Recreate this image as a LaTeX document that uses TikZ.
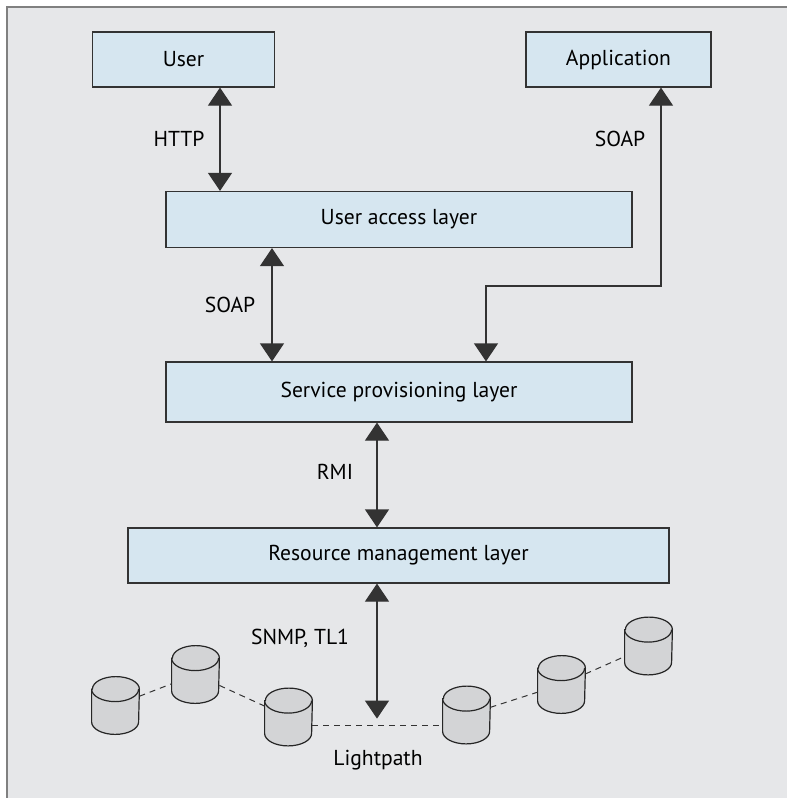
\documentclass[tikz,border=0pt]{standalone}
\usepackage{fontspec}
\setmainfont{PT Sans}
\usetikzlibrary{arrows.meta}

\definecolor{panelgray}{HTML}{E6E7E9}
\definecolor{boxblue}{HTML}{D6E6F0}
\definecolor{diskgray}{HTML}{D3D4D6}

\tikzset{
  layer/.style={draw=black!80, fill=boxblue, line width=0.6pt, inner sep=0pt,
    minimum height=28pt, font=\fontsize{10.8}{12}\selectfont},
  disk/.style={inner sep=0pt, minimum width=23.5pt, minimum height=28.5pt},
  diskline/.style={draw=black!85, fill=diskgray, line width=0.6pt},
  link/.style={{Triangle[width=12pt,length=9pt]}-{Triangle[width=12pt,length=9pt]},
    line width=0.6pt, draw=black!80},
  proto/.style={font=\fontsize{10.8}{12}\selectfont},
  lpath/.style={draw=black!80, line width=0.5pt, dash pattern=on 3pt off 2.5pt}
}

\begin{document}
\begin{tikzpicture}[x=0.5pt, y=-0.5pt]

  \useasboundingbox (0, 0) rectangle (787, 798);
  \fill[panelgray] (7, 7) rectangle (787, 798);
  \draw[gray, line width=0.6pt] (7, 798) -- (7, 7) -- (787, 7);

  % boxes
  \node[layer, minimum width=91pt, minimum height=27.5pt] (user) at (183.5, 59.5) {User};
  \node[layer, minimum width=92.5pt, minimum height=27.5pt] (app) at (618.5, 59.5) {Application};
  \node[layer, minimum width=233pt] (access) at (399, 219.5) {User access layer};
  \node[layer, minimum width=233pt, minimum height=30pt] (service) at (399, 392) {Service provisioning layer};
  \node[layer, minimum width=270.5pt, minimum height=27.5pt] (resource) at (398.5, 555.5) {Resource management layer};

  % where the arrows run
  \coordinate (xhttp) at (220, 0);
  \coordinate (xsoap) at (272, 0);
  \coordinate (xapp) at (661, 0);
  \coordinate (xturn) at (486, 286);
  \coordinate (xrmi) at (377, 0);

  \draw[link] (user.south -| xhttp) -- (access.north -| xhttp);
  \draw[link] (access.south -| xsoap) -- (service.north -| xsoap);
  \draw[link] (service.north -| xturn) -- (xturn) -| (app.south -| xapp);
  \draw[link] (service.south -| xrmi) -- (resource.north -| xrmi);
  \draw[link] (resource.south -| xrmi) -- ++(0, 135);

  \node[proto] (lhttp) at (179, 139) {HTTP};
  \node[proto] (lsoap) at (230, 305) {SOAP};
  \node[proto] (lapp) at (620, 139) {SOAP};
  \node[proto] (lrmi) at (335, 472) {RMI};
  \node[proto] (lsnmp) at (300, 638) {SNMP, TL1};

  % network elements
  \node[disk] (d1) at (115.5, 705.5) {};
  \node[disk] (d2) at (195.5, 674.5) {};
  \node[disk] (d3) at (288.5, 717) {};
  \node[disk] (d4) at (466.5, 715) {};
  \node[disk] (d5) at (561.5, 684.5) {};
  \node[disk] (d6) at (648.5, 646) {};

  \foreach \d in {d1, d2, d3, d4, d5, d6} {
    \draw[diskline] ([yshift=-6.25pt]\d.north west) -- ([yshift=6.25pt]\d.south west)
      arc[start angle=180, end angle=360, x radius=11.75pt, y radius=6.25pt]
      -- ([yshift=-6.25pt]\d.north east)
      arc[start angle=0, end angle=180, x radius=11.75pt, y radius=6.25pt] -- cycle;
    \draw[diskline, fill=none] ([yshift=-6.25pt]\d.north west)
      arc[start angle=180, end angle=360, x radius=11.75pt, y radius=6.25pt];
  }

  \coordinate (lplevel) at (0, 725);
  \draw[lpath] (d1) -- (d2);
  \draw[lpath] (d2) -- (d3);
  \draw[lpath] (d3.east |- lplevel) -- (d4.west |- lplevel);
  \draw[lpath] (d4) -- (d5);
  \draw[lpath] (d5) -- (d6);

  \node[proto] (lpath) at (378, 760) {Lightpath};

\end{tikzpicture}
\end{document}
